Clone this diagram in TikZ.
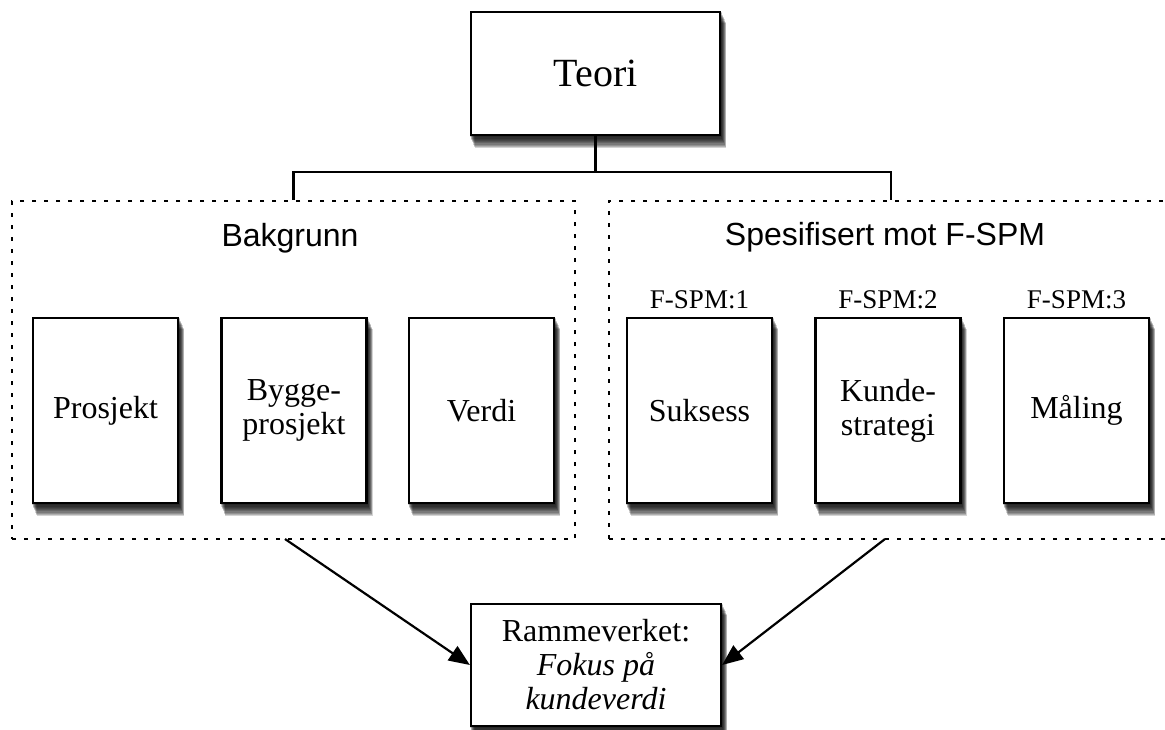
\documentclass[tikz,border=0pt]{standalone}
\usepackage{fontspec}
\setmainfont{Liberation Serif}
\setsansfont{Liberation Sans}
\usetikzlibrary{arrows.meta,backgrounds}

\begin{document}
\begin{tikzpicture}[x=1pt,y=-1pt,
  box/.style={draw=black, line width=2.2pt, fill=white, inner sep=0pt, align=center},
  card/.style={box, minimum width=145pt, minimum height=185pt, font=\fontsize{32}{34}\selectfont},
  group/.style={draw=black, line width=2.2pt, dash pattern=on 4pt off 8pt, minimum height=338pt, inner sep=0pt},
  link/.style={draw=black, line width=2.2pt},
  arrow/.style={link, -{Triangle[length=21pt,width=17pt]}},
  tag/.style={font=\fontsize{27}{27}\selectfont, anchor=base},
  head/.style={font=\sffamily\fontsize{32}{32}\selectfont, anchor=base},
  shade layer/.style={fill=black, opacity=0.17}
]
\useasboundingbox (0,0) rectangle (1165,729);
\clip (0,0) rectangle (1165,729);

% top node
\node[box, minimum width=249pt, minimum height=123pt, font=\fontsize{40}{40}\selectfont] (teori) at (595.5,73.5) {Teori};

% the two groups
\node[group, minimum width=563pt] (bg) at (293.5,370) {};
\node[group, minimum width=564pt] (sp) at (891,370) {};
\node[head] (bghead) at (290,246) {Bakgrunn};
\node[head] (sphead) at (885,245) {Spesifisert mot F-SPM};

% background topics
\node[card] (prosjekt) at (105.5,410.5) {Prosjekt};
\node[card] (bygge) at (294,410.5) {Bygge-\\prosjekt};
\node[card] (verdi) at (481.5,410.5) {Verdi};

% F-SPM topics
\node[card] (suksess) at (699.5,410.5) {Suksess};
\node[card] (kunde) at (888,410.5) {Kunde-\\strategi};
\node[card] (maaling) at (1076.5,410.5) {Måling};
\node[tag] (t1) at (699.5,308) {F-SPM:1};
\node[tag] (t2) at (888,308) {F-SPM:2};
\node[tag] (t3) at (1076.5,308) {F-SPM:3};

% framework
\node[box, minimum width=250pt, minimum height=122pt, font=\fontsize{32}{34}\selectfont] (ram) at (596,665)
  {Rammeverket:\\\textit{Fokus på}\\\textit{kundeverdi}};

% soft drop shadows: stacked translucent copies, shifted down and right
\begin{scope}[on background layer]
  \foreach \n in {teori,prosjekt,bygge,verdi,suksess,kunde,maaling,ram}
    \foreach \i in {1,...,10}
      \fill[shade layer] ([shift={(0.5*\i,1.2*\i)}]\n.south west) rectangle ([shift={(0.5*\i,1.2*\i)}]\n.north east);
\end{scope}

% tree from the theory box
\draw[link] (teori.south) -- (teori.south |- 0,172) coordinate (hub);
\draw[link] (bg.north) |- (hub) -| (sp.north);

% arrows into the framework
\coordinate (bgout) at (285,539);
\coordinate (spout) at (885,539);
\draw[arrow] (bgout) -- (ram.west);
\draw[arrow] (spout) -- (ram.east);
\end{tikzpicture}
\end{document}
